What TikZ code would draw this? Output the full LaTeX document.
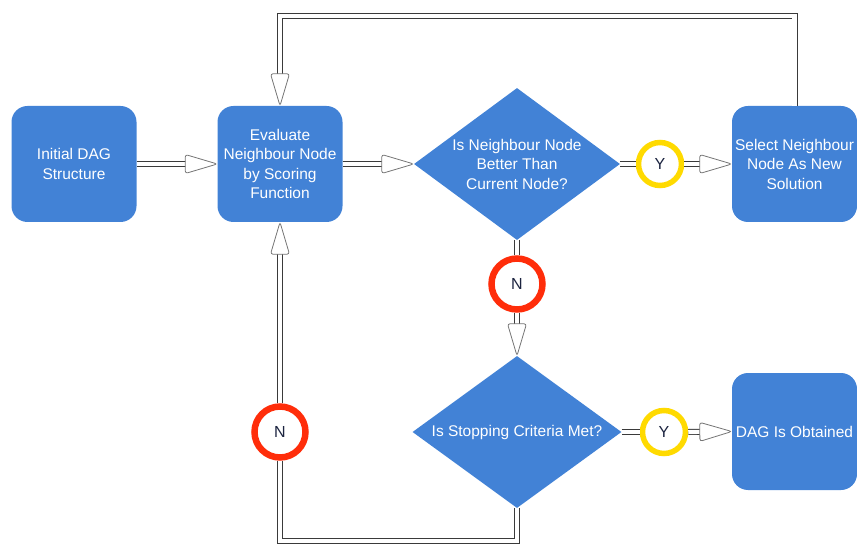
\documentclass[tikz,border=0pt]{standalone}
\usepackage{fontspec}
\setmainfont{Liberation Sans}
\usetikzlibrary{positioning,shapes.geometric,decorations.markings}

\definecolor{flowblue}{HTML}{4282D6}
\definecolor{ringyellow}{HTML}{FFDA00}
\definecolor{ringred}{HTML}{FF2D0A}
\definecolor{ringtext}{HTML}{1C2440}
\definecolor{pipegray}{HTML}{3A3A3A}

\begin{document}
\begin{tikzpicture}[
    x=1pt, y=-1pt,
    % Styles
    stepbox/.style={
        rectangle, rounded corners=16pt, fill=flowblue, draw=none,
        minimum width=125pt, minimum height=116pt, inner sep=0pt,
        text=white, align=center, font=\fontsize{15.5}{19.5}\selectfont,
    },
    decision/.style={
        diamond, fill=flowblue, draw=none, aspect=1.35,
        minimum width=#1, minimum height=152pt, inner sep=0pt,
        text=white, align=center, font=\fontsize{15.5}{19.5}\selectfont,
    },
    decision/.default={206pt},
    ring/.style={
        circle, draw=#1, fill=white, inner sep=0pt,
        text=ringtext, font=\fontsize{16}{18}\selectfont,
    },
    yesring/.style={ring=ringyellow, line width=5.5pt, minimum size=43pt},
    noring/.style={ring=ringred, line width=6.5pt, minimum size=51pt},
    tiphead/.style={
        fill=white, draw=pipegray!70, line width=0.8pt, rounded corners=2.5pt,
        shorten >=0pt, shorten <=0pt,
    },
    pipe/.style={draw=pipegray, line width=0.9pt, double=white, double distance=4.2pt},
    flow/.style={
        pipe, shorten >=20pt,
        postaction={decorate, decoration={markings,
            mark=at position 1 with {\filldraw[tiphead] (0pt,0pt) -- (-32pt,9.5pt) -- (-32pt,-9.5pt) -- cycle;}}},
    },
]
\useasboundingbox (0,0) rectangle (857,545);

% ================================================================
% TOP ROW
% ================================================================
\node[stepbox] (init) at (74,164) {Initial DAG\\Structure};
\node[stepbox] (evaluate) at (280,164) {Evaluate\\Neighbour Node\\by Scoring\\Function};
\node[decision] (better) at (517,164) {Is Neighbour Node\\Better Than\\Current Node?};
\node[yesring] (yesbetter) at (660,164) {Y};
\node[stepbox] (select) at (794.5,164) {Select Neighbour\\Node As New\\Solution};

% ================================================================
% LOWER ROWS
% ================================================================
\node[noring] (nobetter) at (517,284) {N};
\node[decision=209pt] (stopcheck) at (517,432) {Is Stopping Criteria Met?};
\node[yesring] (yesstop) at (664,432) {Y};
\node[stepbox, minimum height=117pt] (obtained) at (794.5,431.5) {DAG Is Obtained};
\node[noring] (nostop) at (280,432) {N};

% rails for the two loops
\coordinate (toprail) at (0,16);
\coordinate (bottomrail) at (0,541);

% ================================================================
% CONNECTORS
% ================================================================
\draw[flow] (init.east) -- (evaluate.west);
\draw[flow] (evaluate.east) -- (better.west);

% Yes branch of first check
\draw[pipe] (better.east) -- (yesbetter.west);
\draw[flow] (yesbetter.east) -- (select.west);

% Select -> back to Evaluate (top loop)
\draw[flow] (select.north) -- (select.north |- toprail) -| (evaluate.north);

% No branch of first check
\draw[pipe] (better.south) -- (nobetter.north);
\draw[flow] (nobetter.south) -- (stopcheck.north);

% Yes branch of stopping check
\draw[pipe] (stopcheck.east) -- (yesstop.west);
\draw[flow] (yesstop.east) -- (obtained.west);

% No branch of stopping check (bottom loop)
\draw[pipe] (stopcheck.south) -- (stopcheck.south |- bottomrail) -| (nostop.south);
\draw[flow] (nostop.north) -- (evaluate.south);

\end{tikzpicture}
\end{document}
